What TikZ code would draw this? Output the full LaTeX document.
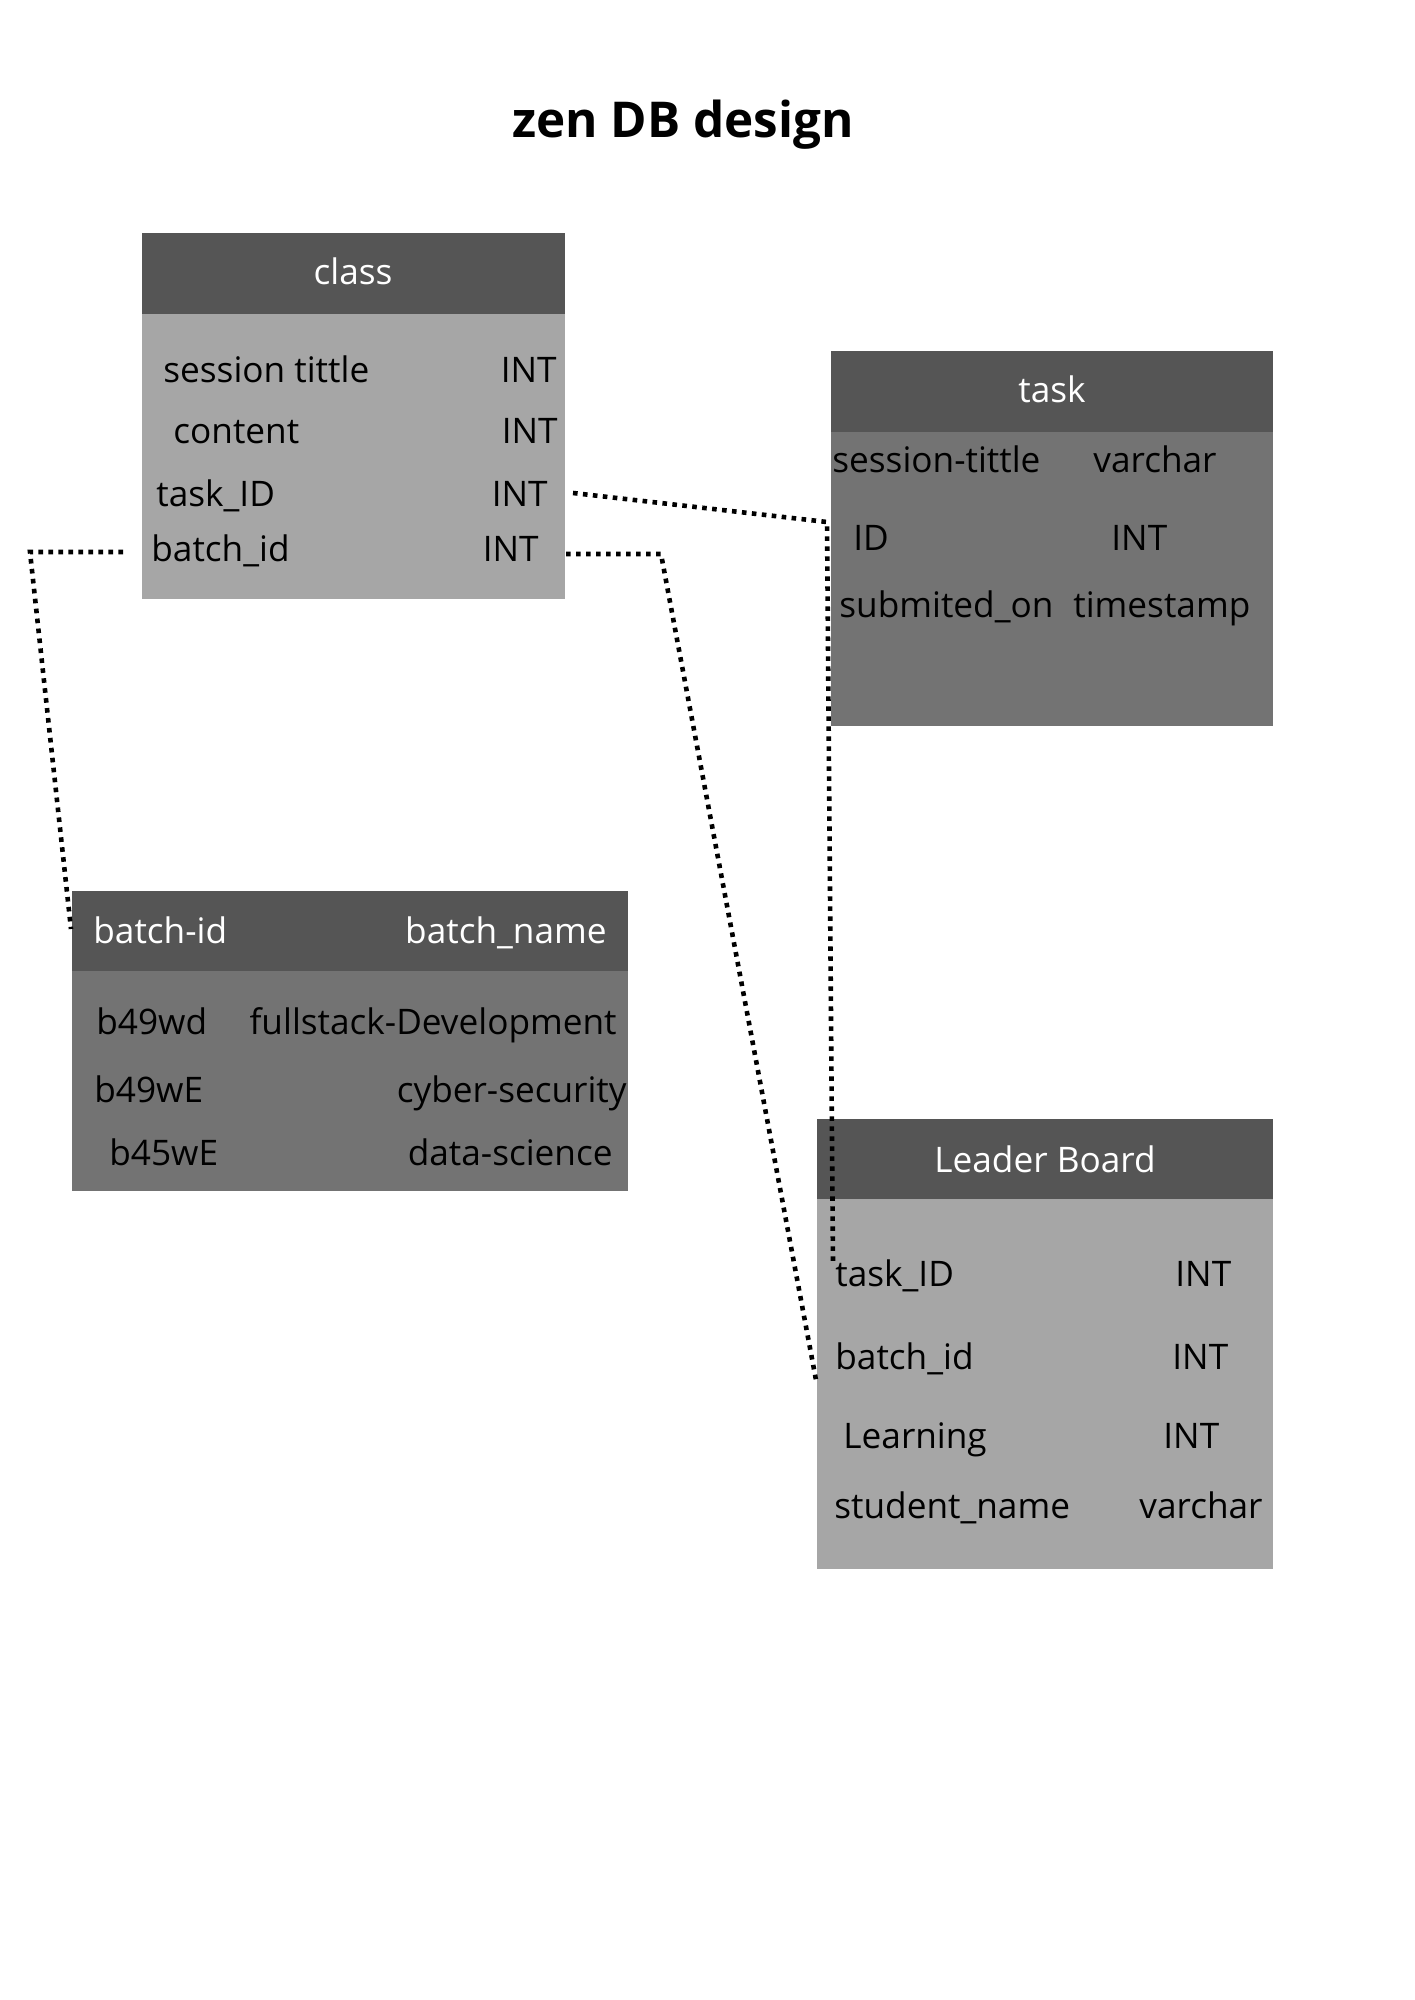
\documentclass[tikz,border=0pt]{standalone}
\usepackage{fontspec}
\setmainfont{Open Sans}
\definecolor{hdrgray}{HTML}{555555}
\definecolor{lightgray}{HTML}{A6A6A6}
\definecolor{midgray}{HTML}{737373}
\tikzset{
  tbox/.style={draw=none, anchor=north west, inner sep=0pt, outer sep=0pt},
  txt/.style={font=\fontsize{17.6}{20}\selectfont, inner sep=0pt, text=black},
  lbl/.style={txt, anchor=base west},
  typ/.style={txt, anchor=base east},
  hdrtxt/.style={txt, text=white, anchor=base},
  conn/.style={line width=2.3pt, dash pattern=on 2.3pt off 2.7pt, black, line cap=butt}
}
\begin{document}
\begin{tikzpicture}[x=0.5pt,y=-0.5pt]
\useasboundingbox[fill=white] (0,0) rectangle (1414,2000);

\node[font=\bfseries\fontsize{24.7}{28}\selectfont, anchor=base, inner sep=0pt] (title) at (683,138) {zen DB design};

% class table
\node[tbox, fill=lightgray, minimum width=211.5pt, minimum height=183pt] (classB) at (142,233) {};
\node[tbox, fill=hdrgray, minimum width=211.5pt, minimum height=40.5pt] (classH) at (142,233) {};
\node[hdrtxt] (classT) at (353,285) {class};
\node[lbl] (c1n) at (163,383) {session tittle};
\node[typ] (c1t) at (557,383) {INT};
\node[lbl] (c2n) at (173,444) {content};
\node[typ] (c2t) at (558,444) {INT};
\node[lbl] (c3n) at (156,506) {task\_ID};
\node[typ] (c3t) at (548,506) {INT};
\node[lbl] (c4n) at (151,561) {batch\_id};
\node[typ] (c4t) at (539,561) {INT};

% task table
\node[tbox, fill=midgray, minimum width=221pt, minimum height=187.5pt] (taskB) at (831,351) {};
\node[tbox, fill=hdrgray, minimum width=221pt, minimum height=40.5pt] (taskH) at (831,351) {};
\node[hdrtxt] (taskT) at (1052,403) {task};
\node[lbl] (t1n) at (832,473) {session-tittle};
\node[lbl] (t1t) at (1093,473) {varchar};
\node[lbl] (t2n) at (853,550) {ID};
\node[lbl] (t2t) at (1111,550) {INT};
\node[lbl] (t3n) at (839,617) {submited\_on};
\node[lbl] (t3t) at (1073,617) {timestamp};

% batch table
\node[tbox, fill=midgray, minimum width=278pt, minimum height=150pt] (batchB) at (72,891) {};
\node[tbox, fill=hdrgray, minimum width=278pt, minimum height=40pt] (batchH) at (72,891) {};
\node[txt, text=white, anchor=base west] (b0n) at (93,943) {batch-id};
\node[txt, text=white, anchor=base east] (b0t) at (607,943) {batch\_name};
\node[lbl] (b1n) at (96,1034) {b49wd};
\node[typ] (b1t) at (617,1034) {fullstack-Development};
\node[lbl] (b2n) at (94,1102) {b49wE};
\node[typ] (b2t) at (627,1102) {cyber-security};
\node[lbl] (b3n) at (109,1165) {b45wE};
\node[typ] (b3t) at (613,1165) {data-science};

% leader board table
\node[tbox, fill=lightgray, minimum width=228pt, minimum height=225pt] (leadB) at (817,1119) {};
\node[tbox, fill=hdrgray, minimum width=228pt, minimum height=40pt] (leadH) at (817,1119) {};
\node[hdrtxt] (leadT) at (1045,1172) {Leader Board};
\node[lbl] (l1n) at (835,1286) {task\_ID};
\node[lbl] (l1t) at (1175,1286) {INT};
\node[lbl] (l2n) at (835,1369) {batch\_id};
\node[lbl] (l2t) at (1172,1369) {INT};
\node[lbl] (l3n) at (843,1448) {Learning};
\node[lbl] (l3t) at (1163,1448) {INT};
\node[lbl] (l4n) at (834,1518) {student\_name};
\node[lbl] (l4t) at (1139,1518) {varchar};

% connector coordinates
\coordinate (aS) at (573,493);
\coordinate (aM) at (827,522);
\coordinate (aE) at (833,1264);
\coordinate (bS) at (566,554);
\coordinate (bM) at (661,554);
\coordinate (bE) at (816,1380);
\coordinate (cS) at (123,552);
\coordinate (cM) at (30,552);
\coordinate (cE) at (71,929);

\draw[conn] (aS) -- (aM) -- (aE);
\draw[conn] (bS) -- (bM) -- (bE);
\draw[conn] (cS) -- (cM) -- (cE);
\end{tikzpicture}
\end{document}
